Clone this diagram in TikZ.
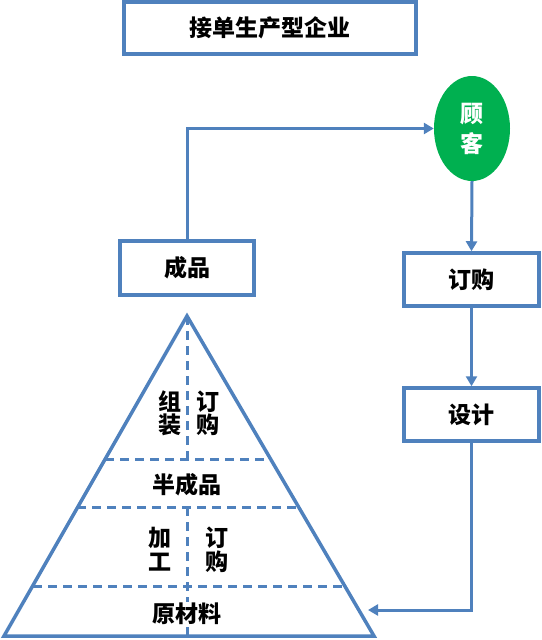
\documentclass[tikz,border=0pt]{standalone}
\usepackage{fontspec}
\setmainfont{Noto Sans CJK SC}
\usetikzlibrary{shapes.geometric,arrows.meta}
\definecolor{lineblue}{HTML}{4F81BD}
\definecolor{custgreen}{HTML}{00B050}
\tikzset{
  box/.style={draw=lineblue,line width=3.5pt,fill=white,inner sep=0pt,font=\fontsize{23}{25}\selectfont\bfseries},
  conn/.style={draw=lineblue,line width=3pt,-{Triangle[length=10pt,width=11pt]}},
  tri/.style={draw=lineblue,line width=3.5pt,line join=miter},
  dashline/.style={draw=lineblue,line width=3pt,dash pattern=on 9pt off 6pt},
  lbl/.style={font=\fontsize{23}{23}\selectfont\bfseries,align=center,inner sep=1pt}
}
\begin{document}
\begin{tikzpicture}[x=1pt,y=-1pt]
\useasboundingbox (0,0) rectangle (541,640);
% boxes
\node[box,minimum width=292pt,minimum height=52pt] (title) at (270,28) {接单生产型企业};
\node[box,minimum width=134pt,minimum height=54pt] (product) at (187,268) {成品};
\node[box,minimum width=135pt,minimum height=53pt] (order) at (471.5,279.5) {订购};
\node[box,minimum width=135pt,minimum height=53pt] (design) at (471.5,414.5) {设计};
\node[ellipse,fill=custgreen,minimum width=76pt,minimum height=105pt,inner sep=0pt,
      text=white,font=\fontsize{23}{30}\selectfont\bfseries,align=center] (cust) at (472,128.5) {顾\\客};
% pyramid
\coordinate (apex) at (187,316);
\coordinate (bl) at (4,636);
\coordinate (br) at (374,636);
\coordinate (inlet) at (368,610);
\draw[dashline] (apex) -- (187,459);
\draw[dashline] (187,507) -- (187,636);
\draw[dashline] (105,459) -- (269,459);
\draw[dashline] (77,507) -- (297,507);
\draw[dashline] (33,586) -- (342,586);
\draw[tri] (apex) -- (bl) -- (br) -- cycle;
\node[lbl] (zz) at (170,413) {组\\装};
\node[lbl] (dg1) at (208,413) {订\\购};
\node[lbl] (bcp) at (187,485) {半成品};
\node[lbl,font=\fontsize{23}{24.5}\selectfont\bfseries] (jg) at (160,549) {加\\工};
\node[lbl,font=\fontsize{23}{24.5}\selectfont\bfseries] (dg2) at (217,550) {订\\购};
\node[lbl,fill=white] (ycl) at (187,614) {原材料};
% connectors
\draw[conn] (product.north) |- (cust.west);
\draw[conn] (cust.south) -- (order.north);
\draw[conn] (order.south) -- (design.north);
\draw[conn] (design.south) |- (inlet);
\end{tikzpicture}
\end{document}
